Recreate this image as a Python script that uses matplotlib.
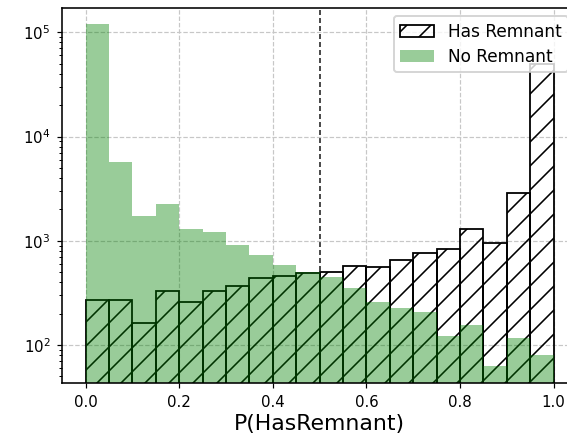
import numpy as np
import matplotlib
matplotlib.use("Agg")
import matplotlib.pyplot as plt

# Histogram of classifier output P(HasRemnant), 20 bins on [0, 1]
bin_edges = np.linspace(0.0, 1.0, 21)
bin_centers = 0.5 * (bin_edges[:-1] + bin_edges[1:])

has_remnant_counts = [270, 272, 162, 328, 257, 330, 371, 437, 463, 495,
                      505, 569, 564, 650, 769, 839, 1290, 960, 2890, 50000]
no_remnant_counts = [119000, 5670, 1740, 2250, 1300, 1210, 910, 736, 587, 500,
                     447, 350, 260, 225, 206, 122, 157, 63, 118, 81]

threshold = 0.5
x_ticks = [0.0, 0.2, 0.4, 0.6, 0.8, 1.0]
x_label = "P(HasRemnant)"

plt.rcParams["hatch.linewidth"] = 0.8
plt.rcParams["font.family"] = "DejaVu Sans"

dpi = 144
fig = plt.figure(figsize=(567 / dpi, 434 / dpi), dpi=dpi)
ax = fig.add_axes([0.1099, 0.1168, 0.9077, 0.8659])

ax.hist(bin_centers, bins=bin_edges, weights=has_remnant_counts,
        histtype="bar", rwidth=1.0, fill=False, hatch="//",
        edgecolor="k", linewidth=0.9, label="Has Remnant")
ax.hist(bin_centers, bins=bin_edges, weights=no_remnant_counts,
        histtype="bar", rwidth=1.0, color="green", alpha=0.4,
        linewidth=0, label="No Remnant")

ax.axvline(threshold, color="0.3", linestyle="--", linewidth=1.0,
           dashes=(2.5, 1.5), zorder=0.5)

ax.set_yscale("log")
ax.set_xlim(-0.05, 1.05)
ax.set_ylim(42.9, 1.73e5)
ax.set_xticks(x_ticks)
ax.set_xticklabels([f"{t:.1f}" for t in x_ticks])

ax.grid(True, which="major", color="0.78", linestyle="--", linewidth=0.6)
ax.set_axisbelow(True)

ax.tick_params(axis="both", which="major", labelsize=7.5, length=2.5,
               width=0.6, direction="out")
ax.tick_params(axis="y", which="minor", length=1.5, width=0.5)
ax.tick_params(axis="x", which="minor", bottom=False)
for spine in ax.spines.values():
    spine.set_linewidth(0.8)

ax.set_xlabel(x_label, fontsize=11, labelpad=2)

ax.legend(loc="upper right", fontsize=8.5, framealpha=0.8,
          handlelength=2.0, borderpad=0.4, labelspacing=0.4)

fig.savefig("out.png", dpi=dpi)
